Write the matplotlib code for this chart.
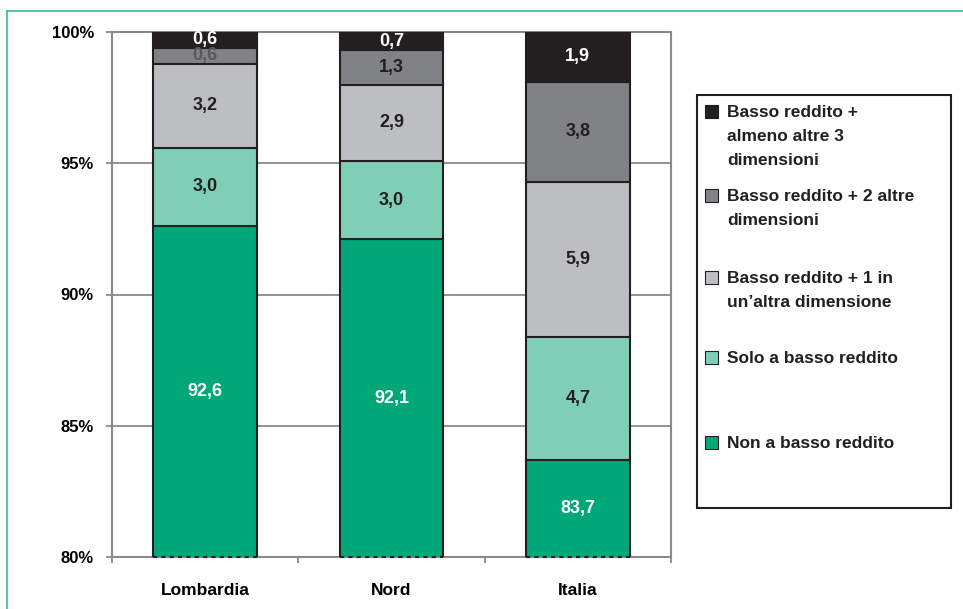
import matplotlib as mpl
mpl.use('Agg')
import matplotlib.pyplot as plt
from matplotlib.lines import Line2D
from matplotlib.patches import Rectangle
import numpy as np

#======================================================================

categories = ['Lombardia', 'Nord', 'Italia']

non_basso = [92.6, 92.1, 83.7]
solo_basso = [3.0, 3.0, 4.7]
basso_1 = [3.2, 2.9, 5.9]
basso_2 = [0.6, 1.3, 3.8]
basso_3 = [0.6, 0.7, 1.9]

series_names = [
    'Non a basso reddito',
    'Solo a basso reddito',
    "Basso reddito + 1 in\nun\u2019altra dimensione",
    'Basso reddito + 2 altre\ndimensioni',
    'Basso reddito +\nalmeno altre 3\ndimensioni',
]

yticks = [80, 85, 90, 95, 100]
ytick_labels = ['80%', '85%', '90%', '95%', '100%']

#======================================================================

COLORS = ['#00a878', '#7fcfb6', '#bdbec2', '#808285', '#231f20']
TEXT_COLORS = ['white', '#231f20', '#231f20', '#231f20', 'white']
EDGE = '#231f20'
AXIS_GRAY = '#8a8a8a'
FRAME_GREEN = '#3cb98f'

plt.rcParams['font.family'] = ['Liberation Sans', 'DejaVu Sans']
plt.rcParams['font.weight'] = 'bold'

fig = plt.figure(figsize=(9.63, 6.09), dpi=100)
ax = fig.add_axes([112/963, 1 - 557/609, (671 - 112)/963, (557 - 32)/609])

series = [non_basso, solo_basso, basso_1, basso_2, basso_3]
x = np.arange(len(categories))
width = 0.555
bottom = np.zeros(len(categories))
for i, vals in enumerate(series):
    vals = np.asarray(vals)
    ax.bar(x, vals, width, bottom=bottom, color=COLORS[i],
           edgecolor=EDGE, linewidth=1.5, zorder=3)
    for j, v in enumerate(vals):
        yc = bottom[j] + v/2
        if bottom[j] < 80:
            yc = (80 + bottom[j] + v)/2
        tc = TEXT_COLORS[i]
        if i == 3 and v < 1:
            tc = '#58595b'
        ax.text(x[j], yc, f'{v:.1f}'.replace('.', ','), ha='center',
                va='center', color=tc, fontsize=13, fontweight='bold',
                zorder=5)
    bottom = bottom + vals

# dashed bottom edge where the bars are cut by the axis
for xi in x:
    ax.plot([xi - width/2, xi + width/2], [80, 80], color=EDGE, lw=1.5,
            ls=(0, (2, 2)), zorder=4, clip_on=False)

ax.set_xlim(-0.5, len(categories) - 0.5)
ax.set_ylim(80, 100)
ax.set_yticks(yticks)
ax.set_yticklabels(ytick_labels, fontsize=12, fontweight='bold')
ax.set_xticks(x)
ax.set_xticklabels(categories, fontsize=12.5, fontweight='bold')
ax.tick_params(axis='x', length=0, pad=19)
ax.tick_params(axis='y', length=4, width=1.3, color=AXIS_GRAY, pad=9,
               direction='out')
ax.set_xticks(np.arange(len(categories) + 1) - 0.5, minor=True)
ax.tick_params(axis='x', which='minor', length=4, width=1.3,
               color=AXIS_GRAY, direction='out')

ax.yaxis.grid(True, color=AXIS_GRAY, lw=1.3, zorder=0)
ax.set_axisbelow(True)
for side in ['left', 'right', 'top', 'bottom']:
    ax.spines[side].set_color(AXIS_GRAY)
    ax.spines[side].set_linewidth(1.5)
    ax.spines[side].set_zorder(2)

# legend, drawn by hand to match the spacing of the original
lx0, lx1, ly0, ly1 = 697, 951, 95, 508
fig.patches.append(Rectangle((lx0/963, 1 - ly1/609), (lx1 - lx0)/963,
                             (ly1 - ly0)/609, transform=fig.transFigure,
                             facecolor='white', edgecolor=EDGE, lw=1.5))
legend_y = [112, 196, 278, 358, 443]
for k, i in enumerate([4, 3, 2, 1, 0]):
    ytop = legend_y[k]
    fig.patches.append(Rectangle((705/963, 1 - (ytop + 6)/609), 13/963,
                                 13/609, transform=fig.transFigure,
                                 facecolor=COLORS[i], edgecolor=EDGE,
                                 lw=0.8))
    fig.text(727/963, 1 - (ytop - 7)/609, series_names[i], ha='left',
             va='top', fontsize=12.5, fontweight='bold', color='#231f20',
             linespacing=1.74)

# green frame of the page
fig.add_artist(Line2D([7/963, 1], [1 - 11/609, 1 - 11/609],
                      transform=fig.transFigure, color=FRAME_GREEN, lw=1.2))
fig.add_artist(Line2D([7/963, 7/963], [0, 1 - 11/609],
                      transform=fig.transFigure, color=FRAME_GREEN, lw=1.2))

fig.savefig('out.png', dpi=100)
plt.close()
